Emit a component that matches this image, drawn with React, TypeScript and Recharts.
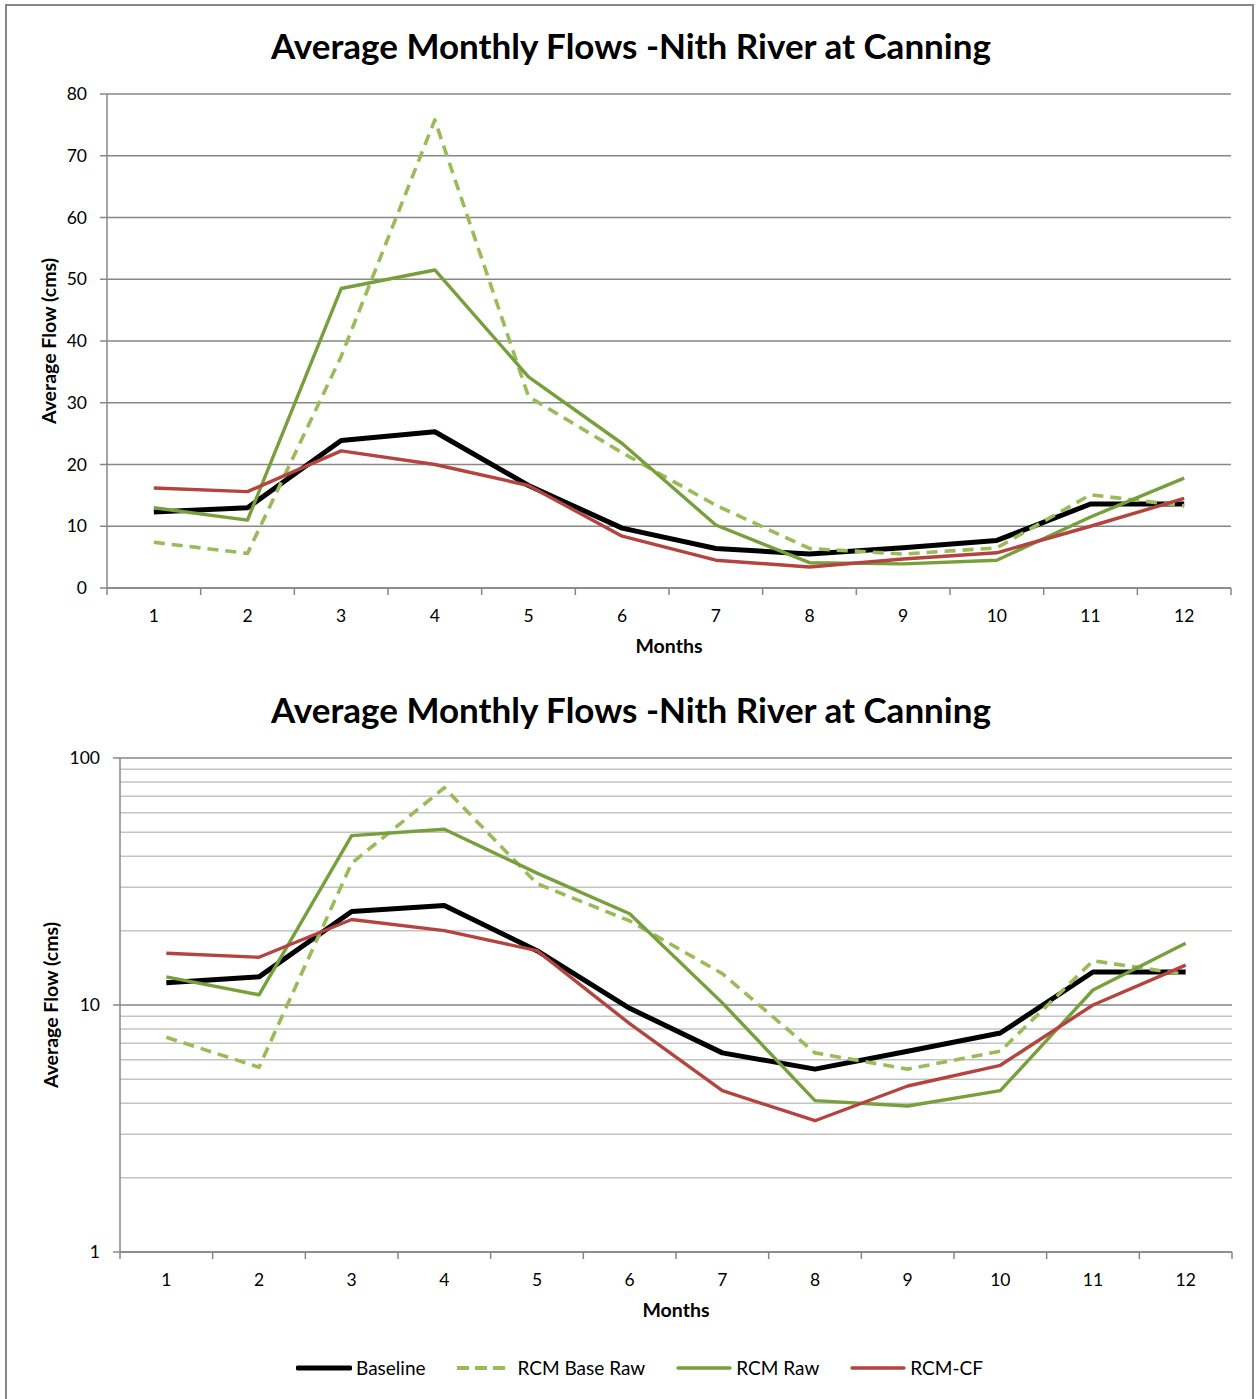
import React from "react";
import { LineChart, Line, XAxis, YAxis, CartesianGrid } from "recharts";

const FONT = "Lato, 'Open Sans', sans-serif";
const TITLE = "Average Monthly Flows -Nith River at Canning";

const months = [1, 2, 3, 4, 5, 6, 7, 8, 9, 10, 11, 12];
const baseline = [12.3, 13.0, 23.9, 25.3, 16.6, 9.7, 6.4, 5.5, 6.5, 7.7, 13.6, 13.6];
const rcmBaseRaw = [7.4, 5.6, 37.5, 75.8, 31.0, 21.9, 13.4, 6.4, 5.5, 6.5, 15.1, 13.3];
const rcmRaw = [13.0, 11.0, 48.5, 51.5, 34.2, 23.4, 10.2, 4.1, 3.9, 4.5, 11.5, 17.8];
const rcmCf = [16.2, 15.6, 22.2, 20.0, 16.6, 8.4, 4.5, 3.4, 4.7, 5.7, 10.0, 14.5];

const linearTicks = [0, 10, 20, 30, 40, 50, 60, 70, 80];
const logTicks = [1, 2, 3, 4, 5, 6, 7, 8, 9, 10, 20, 30, 40, 50, 60, 70, 80, 90, 100];
const logMajor = [1, 10, 100];

// tick marks sit between the months, labels on the months
const xTicks = [...months.flatMap((m) => [m - 0.5, m]), months[months.length - 1] + 0.5];

const data = months.map((m, i) => ({
  month: m,
  baseline: baseline[i],
  rcmBaseRaw: rcmBaseRaw[i],
  rcmRaw: rcmRaw[i],
  rcmCf: rcmCf[i],
}));

const series = [
  { key: "baseline", name: "Baseline", color: "#000000", width: 5, dash: undefined },
  { key: "rcmBaseRaw", name: "RCM Base Raw", color: "#9bbb59", width: 3.6, dash: "11 7" },
  { key: "rcmRaw", name: "RCM Raw", color: "#77a03c", width: 3.4, dash: undefined },
  { key: "rcmCf", name: "RCM-CF", color: "#b3443f", width: 3.4, dash: undefined },
];

const AXIS = "#878787";

function MonthTick({ x, y, payload }: any) {
  const v = payload.value;
  if (Number.isInteger(v)) {
    return (
      <text x={x} y={y + 34} textAnchor="middle" fontSize={17.5} fontFamily={FONT} fill="#000">
        {v}
      </text>
    );
  }
  return <line x1={x} x2={x} y1={y} y2={y + 7} stroke={AXIS} strokeWidth={1.5} />;
}

function ValueTick({ x, y, payload, log }: any) {
  const v = payload.value;
  if (log && !logMajor.includes(v)) return null;
  return (
    <g>
      <line x1={x - 7} x2={x} y1={y} y2={y} stroke={AXIS} strokeWidth={1.5} />
      <text x={x - 20} y={y + 6} textAnchor="end" fontSize={17.5} fontFamily={FONT} fill="#000">
        {v}
      </text>
    </g>
  );
}

function LogGridLine(props: any) {
  const { x1, x2, y1, y2, index } = props;
  const major = logMajor.includes(logTicks[index]);
  return <line x1={x1} x2={x2} y1={y1} y2={y2} stroke={major ? AXIS : "#c4c4c4"} strokeWidth={1.5} />;
}

const titleStyle: React.CSSProperties = {
  position: "absolute",
  left: 631,
  transform: "translateX(-50%)",
  fontFamily: FONT,
  fontWeight: 700,
  fontSize: 35,
  whiteSpace: "nowrap",
  color: "#000",
};

const axisTitle: React.CSSProperties = {
  position: "absolute",
  fontFamily: FONT,
  fontWeight: 700,
  fontSize: 19.5,
  whiteSpace: "nowrap",
  color: "#000",
};

function renderLines() {
  return series.map((s) => (
    <Line
      key={s.key}
      type="linear"
      dataKey={s.key}
      name={s.name}
      stroke={s.color}
      strokeWidth={s.width}
      strokeDasharray={s.dash}
      strokeLinejoin="round"
      dot={false}
      activeDot={false}
      isAnimationActive={false}
    />
  ));
}

export default function App() {
  return (
    <div style={{ position: "absolute", left: 0, top: 0, width: 1257, height: 1399, background: "#fff", overflow: "hidden" }}>
      <div
        style={{
          position: "absolute",
          left: 5,
          top: 4,
          width: 1249,
          height: 1420,
          border: `2px solid ${AXIS}`,
          boxSizing: "border-box",
        }}
      />

      <div style={{ ...titleStyle, top: 24 }}>{TITLE}</div>
      <div style={{ position: "absolute", left: 0, top: 0 }}>
        <LineChart width={1257} height={660} data={data} margin={{ top: 94, right: 26, bottom: 32, left: 0 }}>
          <CartesianGrid vertical={false} stroke={AXIS} strokeWidth={1.5} />
          <XAxis
            dataKey="month"
            type="number"
            domain={[0.5, 12.5]}
            ticks={xTicks}
            interval={0}
            tick={<MonthTick />}
            tickLine={false}
            tickSize={0}
            tickMargin={0}
            height={40}
            axisLine={{ stroke: AXIS, strokeWidth: 1.5 }}
          />
          <YAxis
            type="number"
            domain={[0, 80]}
            ticks={linearTicks}
            interval={0}
            width={107}
            tick={<ValueTick />}
            tickLine={false}
            tickSize={0}
            tickMargin={0}
            axisLine={{ stroke: AXIS, strokeWidth: 1.5 }}
          />
          {renderLines()}
        </LineChart>
      </div>
      <div style={{ ...axisTitle, left: 48, top: 341, transform: "translate(-50%, -50%) rotate(-90deg)" }}>
        Average Flow (cms)
      </div>
      <div style={{ ...axisTitle, left: 669, top: 634, transform: "translateX(-50%)" }}>Months</div>

      <div style={{ ...titleStyle, top: 688 }}>{TITLE}</div>
      <div style={{ position: "absolute", left: 0, top: 660 }}>
        <LineChart width={1257} height={680} data={data} margin={{ top: 98, right: 25, bottom: 48, left: 0 }}>
          <CartesianGrid vertical={false} horizontal={(p: any) => <LogGridLine key={p.key} {...p} />} />
          <XAxis
            dataKey="month"
            type="number"
            domain={[0.5, 12.5]}
            ticks={xTicks}
            interval={0}
            tick={<MonthTick />}
            tickLine={false}
            tickSize={0}
            tickMargin={0}
            height={40}
            axisLine={{ stroke: AXIS, strokeWidth: 1.5 }}
          />
          <YAxis
            type="number"
            scale="log"
            domain={[1, 100]}
            allowDataOverflow
            ticks={logTicks}
            interval={0}
            width={120}
            tick={<ValueTick log />}
            tickLine={false}
            tickSize={0}
            tickMargin={0}
            axisLine={{ stroke: AXIS, strokeWidth: 1.5 }}
          />
          {renderLines()}
        </LineChart>
      </div>
      <div style={{ ...axisTitle, left: 50, top: 1005, transform: "translate(-50%, -50%) rotate(-90deg)" }}>
        Average Flow (cms)
      </div>
      <div style={{ ...axisTitle, left: 676, top: 1298, transform: "translateX(-50%)" }}>Months</div>

      <div
        style={{
          position: "absolute",
          left: 296,
          top: 1356,
          display: "flex",
          alignItems: "center",
          gap: 31,
          fontFamily: FONT,
          fontSize: 19,
          color: "#000",
          whiteSpace: "nowrap",
        }}
      >
        {series.map((s) => (
          <div key={s.key} style={{ display: "flex", alignItems: "center" }}>
            <svg width={s.dash ? 49 : 56} height={10}>
              <line
                x1={s.dash ? 0 : 2}
                x2={s.dash ? 49 : 54}
                y1={5}
                y2={5}
                stroke={s.color}
                strokeWidth={s.dash ? 4 : s.width}
                strokeDasharray={s.dash ? "12 6" : undefined}
                strokeLinecap={s.dash ? "butt" : "round"}
              />
            </svg>
            <span style={{ marginLeft: s.dash ? 12 : 4 }}>{s.name}</span>
          </div>
        ))}
      </div>
    </div>
  );
}
